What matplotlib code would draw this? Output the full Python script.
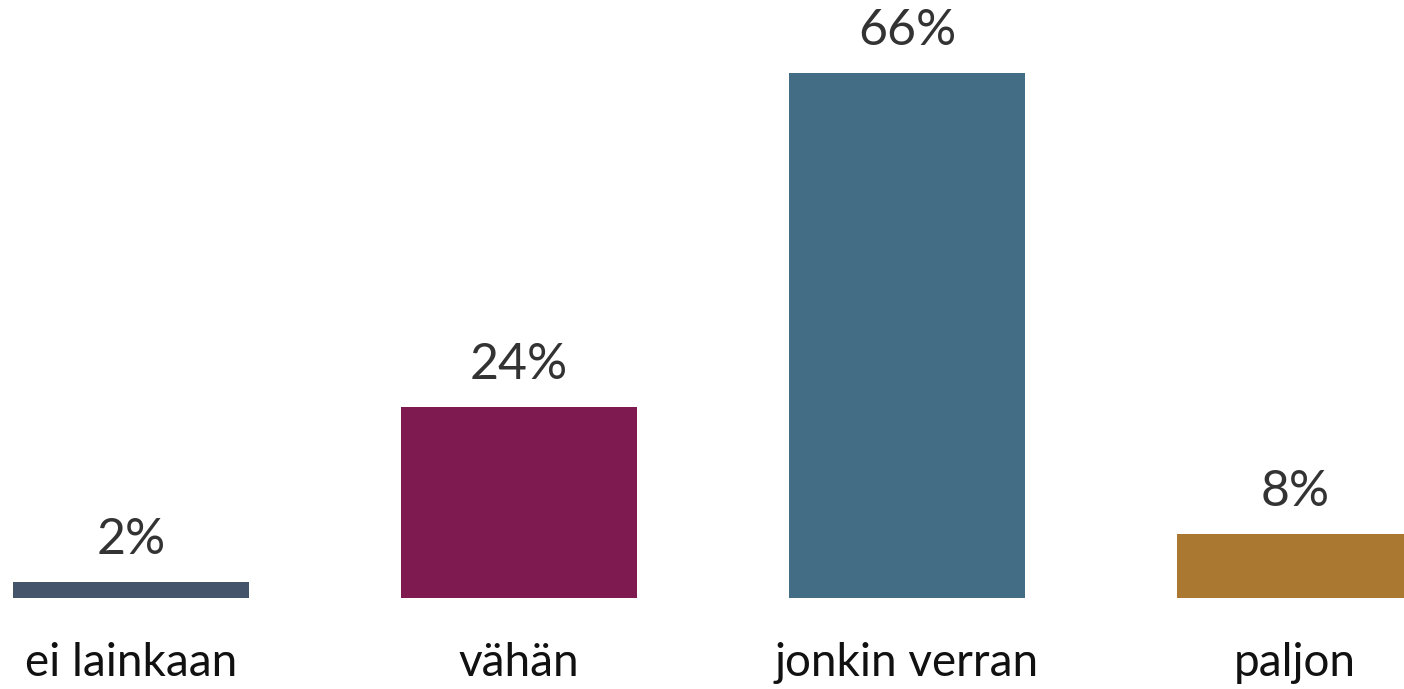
import matplotlib
matplotlib.use("Agg")
import matplotlib.pyplot as plt

# answer categories and shares (%)
categories = ["ei lainkaan", "vähän", "jonkin verran", "paljon"]
values = [2, 24, 66, 8]
colors = ["#44546a", "#7f1a50", "#436c85", "#ab7832"]

plt.rcParams["font.family"] = ["Lato", "DejaVu Sans"]

fig = plt.figure(figsize=(14.04, 6.89), dpi=100)
# axes bottom sits at the bar baseline, labels hang below it
ax = fig.add_axes([0, 91 / 689, 1, 598 / 689])

x = range(len(categories))
bars = ax.bar(x, values, width=0.608, color=colors)

for b, v in zip(bars, values):
    ax.annotate(f"{v}%", (b.get_x() + b.get_width() / 2, b.get_height()),
                xytext=(0, 14), textcoords="offset points",
                ha="center", va="bottom", fontsize=36, color="#333333")

ax.set_xlim(-0.338, 3.281)
ax.set_ylim(0, 75.2)
ax.set_xticks(list(x))
ax.set_xticklabels(categories, fontsize=33, color="#111111")
ax.tick_params(axis="x", length=0, pad=32)
ax.set_yticks([])
for s in ax.spines.values():
    s.set_visible(False)

fig.savefig("out.png", dpi=100)
